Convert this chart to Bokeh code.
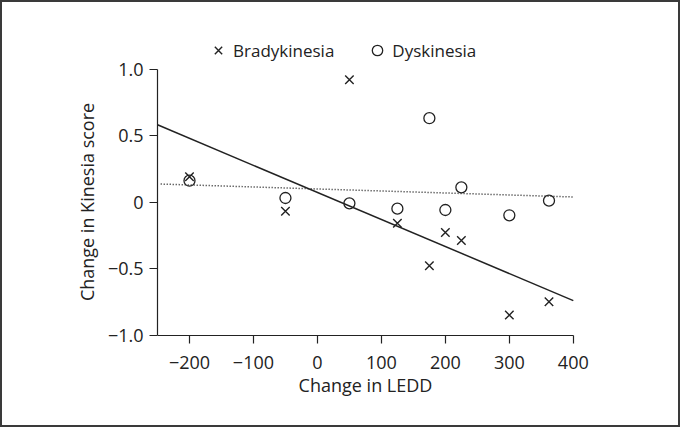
from bokeh.plotting import figure
from bokeh.models import Legend, LegendItem, Range1d, FixedTicker
from bokeh.embed import file_html
from bokeh.resources import INLINE
import numpy as np

# Data
ledd = [-200, -50, 50, 125, 175, 200, 225, 300, 362]
brady = [0.19, -0.07, 0.92, -0.16, -0.48, -0.23, -0.29, -0.85, -0.75]
dysk = [0.16, 0.03, -0.01, -0.05, 0.63, -0.06, 0.11, -0.10, 0.01]

# Fit lines (slope, intercept, x extent)
brady_fit = (-0.002034, 0.072)
brady_fit_x = [-250, 400]
dysk_fit = (-0.0001506, 0.098)
dysk_fit_x = [-245, 400]

x_ticks = [-200, -100, 0, 100, 200, 300, 400]
y_ticks = [-1.0, -0.5, 0, 0.5, 1.0]
y_tick_labels = {-1.0: "\u22121.0", -0.5: "\u22120.5", 0: "0", 0.5: "0.5", 1.0: "1.0"}
x_tick_labels = {t: (("\u2212" + str(-t)) if t < 0 else str(t)) for t in x_ticks}

FONT = "Open Sans"
INK = "#222222"

# The frame spans wider ranges than the axes so that the legend (above the axes)
# and the axis labels are not clipped; the axes themselves are bounded.
p = figure(width=680, height=427, output_backend="svg", toolbar_location=None,
           x_range=Range1d(-250, 430), y_range=Range1d(-1.5, 1.5),
           min_border_left=155, min_border_right=90, min_border_top=0, min_border_bottom=28)
p.outline_line_color = None
p.grid.visible = False
p.background_fill_color = "white"
p.border_fill_color = "white"
p.styles = {"border": "2px solid #3a3a3a"}

for ax in (p.xaxis[0], p.yaxis[0]):
    ax.major_tick_out = 8
    ax.major_tick_in = 0
    ax.minor_tick_out = 0
    ax.minor_tick_in = 0
    ax.axis_line_color = INK
    ax.major_tick_line_color = INK
    ax.axis_line_width = 1.2
    ax.major_tick_line_width = 1.2
    ax.major_label_text_font = FONT
    ax.major_label_text_font_size = "18px"
    ax.major_label_text_color = INK
    ax.axis_label_text_font = FONT
    ax.axis_label_text_font_size = "18px"
    ax.axis_label_text_font_style = "normal"
    ax.axis_label_text_color = INK

p.xaxis.ticker = FixedTicker(ticks=x_ticks)
p.xaxis.major_label_overrides = x_tick_labels
p.xaxis.fixed_location = -1.0
p.xaxis.bounds = (-250, 400)
p.yaxis.ticker = FixedTicker(ticks=y_ticks)
p.yaxis.major_label_overrides = y_tick_labels
p.yaxis.bounds = (-1.0, 1.0)
p.xaxis.axis_label = "Change in LEDD"
p.yaxis.axis_label = "Change in Kinesia score"
p.xaxis.major_label_standoff = 13
p.xaxis.axis_label_standoff = 0
p.yaxis.major_label_standoff = 6
p.yaxis.axis_label_standoff = 6

# fit lines
bx = np.array(brady_fit_x, dtype=float)
p.line(bx, brady_fit[0] * bx + brady_fit[1], line_color=INK, line_width=1.5)
dx = np.array(dysk_fit_x, dtype=float)
p.line(dx, dysk_fit[0] * dx + dysk_fit[1], line_color=INK, line_width=1.5, line_dash="1 2")

r_b = p.scatter(ledd, brady, marker="x", size=12, line_color=INK, line_width=1.4)
r_d = p.scatter(ledd, dysk, marker="circle", size=11, line_color=INK, fill_color=None, line_width=1.3)

legend = Legend(items=[LegendItem(label="Bradykinesia", renderers=[r_b]),
                       LegendItem(label="Dyskinesia", renderers=[r_d])],
                orientation="horizontal", location=(48, 338),
                border_line_color=None, background_fill_alpha=0,
                padding=0, margin=0, spacing=30, label_standoff=2,
                glyph_width=26, glyph_height=26,
                label_text_font=FONT, label_text_font_size="17px", label_text_color=INK)
p.add_layout(legend, "center")

open("out.html", "w").write(file_html(p, INLINE))
